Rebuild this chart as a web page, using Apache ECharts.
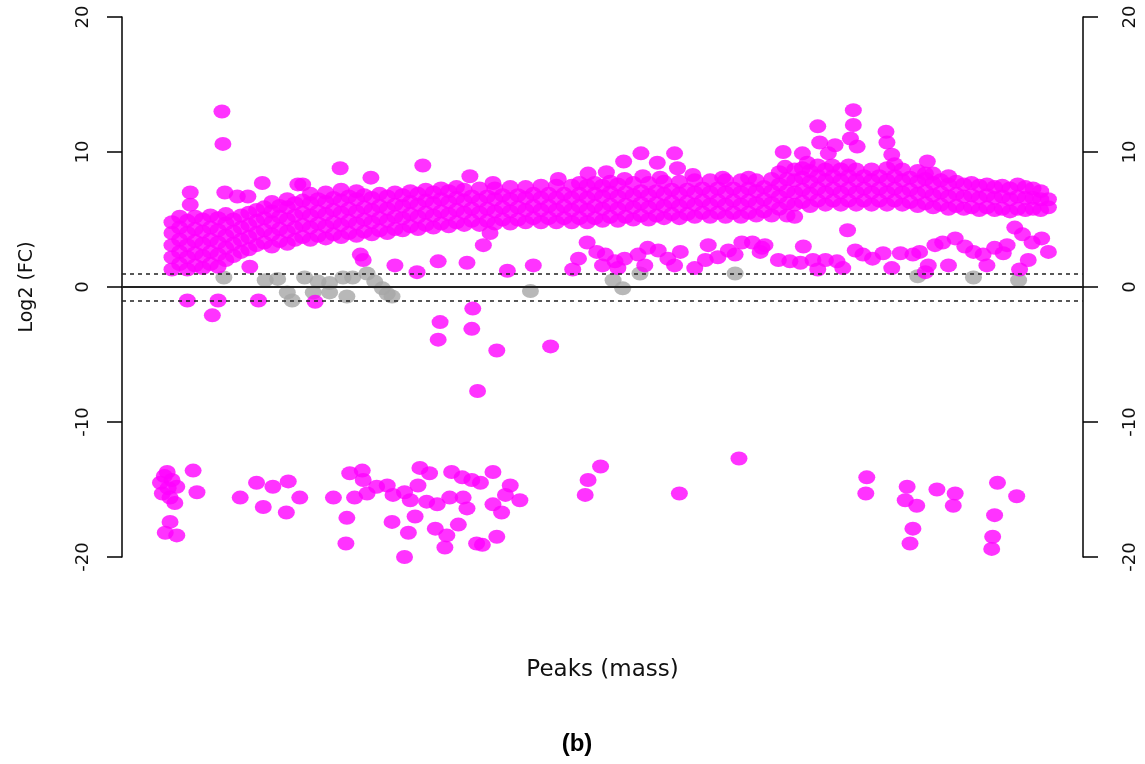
<!DOCTYPE html>
<html>
<head>
    <meta charset="utf-8">
    <title>Log2 (FC) vs Peaks</title>
    <script src="https://cdn.jsdelivr.net/npm/echarts@6/dist/echarts.min.js"></script>
    <style>
        html, body { margin: 0; padding: 0; background: #fff; }
        #main { width: 1145px; height: 764px; }
    </style>
</head>
<body>
<div id="main"></div>
<script>
    // peak index (0..1000 on the x scale) -> log2 fold change
    // main band, one column of peaks at a time
    const upperCols = [
        [52, [1.3, 2.2, 3.1, 4.0, 4.8]], [60, [1.7, 2.6, 3.5, 4.4, 5.2]], [68, [1.3, 2.2, 3.1, 4.0, 4.9]],
        [76, [1.6, 2.5, 3.4, 4.3, 5.2]], [84, [1.4, 2.3, 3.2, 4.1, 5.0]], [92, [1.7, 2.6, 3.5, 4.4, 5.3]],
        [100, [1.5, 2.4, 3.3, 4.2, 5.1]], [108, [2.0, 2.9, 3.8, 4.7, 5.4]], [116, [2.3, 3.2, 4.1, 5.0]],
        [124, [2.6, 3.5, 4.4, 5.3]], [132, [2.8, 3.7, 4.6, 5.5]], [140, [3.1, 4.0, 4.9, 5.7]],
        [148, [3.3, 4.2, 5.1, 5.9]], [156, [3.0, 3.9, 4.8, 5.6, 6.3]], [164, [3.4, 4.3, 5.2, 6.0]],
        [172, [3.2, 4.1, 5.0, 5.9, 6.5]], [180, [3.5, 4.4, 5.3, 6.2]], [188, [3.7, 4.6, 5.5, 6.4]],
        [196, [3.5, 4.4, 5.3, 6.2, 6.9]], [204, [3.8, 4.7, 5.6, 6.5]], [212, [3.6, 4.5, 5.4, 6.3, 7.0]],
        [220, [3.9, 4.8, 5.7, 6.6]], [228, [3.7, 4.6, 5.5, 6.4, 7.2]], [236, [4.0, 4.9, 5.8, 6.7]],
        [244, [3.8, 4.7, 5.6, 6.5, 7.1]], [252, [4.1, 5.0, 5.9, 6.8]], [260, [3.9, 4.8, 5.7, 6.6]],
        [268, [4.2, 5.1, 6.0, 6.9]], [276, [4.0, 4.9, 5.8, 6.7]], [284, [4.3, 5.2, 6.1, 7.0]],
        [292, [4.2, 5.1, 6.0, 6.8]], [300, [4.5, 5.4, 6.3, 7.1]], [308, [4.3, 5.2, 6.1, 6.9]],
        [316, [4.6, 5.5, 6.4, 7.2]], [324, [4.4, 5.3, 6.2, 7.0]], [332, [4.7, 5.6, 6.5, 7.3]],
        [340, [4.5, 5.4, 6.3, 7.1]], [348, [4.8, 5.7, 6.6, 7.4]], [356, [4.6, 5.5, 6.4, 7.2]],
        [364, [4.9, 5.8, 6.7]], [372, [4.6, 5.5, 6.4, 7.3]], [380, [4.9, 5.8, 6.7]],
        [388, [4.7, 5.6, 6.5, 7.3]], [396, [5.0, 5.9, 6.8]], [404, [4.7, 5.6, 6.5, 7.4]],
        [412, [5.0, 5.9, 6.8]], [420, [4.8, 5.7, 6.6, 7.4]], [428, [5.1, 6.0, 6.9]],
        [436, [4.8, 5.7, 6.6, 7.5]], [444, [5.1, 6.0, 6.9]], [452, [4.8, 5.7, 6.6, 7.5]],
        [460, [5.1, 6.0, 6.9]], [468, [4.8, 5.7, 6.6, 7.5]], [476, [5.1, 6.0, 6.9, 7.7]],
        [484, [4.8, 5.7, 6.6, 7.5]], [492, [5.1, 6.0, 6.9, 7.7]], [500, [4.9, 5.8, 6.7, 7.5]],
        [508, [5.2, 6.1, 7.0, 7.8]], [516, [4.9, 5.8, 6.7, 7.6]], [524, [5.2, 6.1, 7.0]],
        [532, [5.0, 5.9, 6.8, 7.7]], [540, [5.3, 6.2, 7.1]], [548, [5.0, 5.9, 6.8, 7.7]],
        [556, [5.3, 6.2, 7.1]], [564, [5.1, 6.0, 6.9, 7.8]], [572, [5.4, 6.3, 7.2]],
        [580, [5.1, 6.0, 6.9, 7.8]], [588, [5.4, 6.3, 7.2]], [596, [5.2, 6.1, 7.0, 7.9]],
        [604, [5.5, 6.4, 7.3]], [612, [5.2, 6.1, 7.0, 7.9]], [620, [5.5, 6.4, 7.3]],
        [628, [5.2, 6.1, 7.0, 7.9]], [636, [5.5, 6.4, 7.3]], [644, [5.2, 6.1, 7.0, 7.9]],
        [652, [5.5, 6.4, 7.3, 8.1]], [660, [5.3, 6.2, 7.1, 7.9]], [668, [5.6, 6.5, 7.4]],
        [676, [5.3, 6.2, 7.1, 8.0]], [684, [5.8, 6.7, 7.6, 8.5]], [692, [5.3, 6.2, 7.1, 8.0]],
        [700, [5.2, 6.1, 7.0, 7.9, 8.7]], [708, [6.3, 7.2, 8.1, 8.8]], [716, [6.0, 6.9, 7.8, 8.6]],
        [724, [6.4, 7.3, 8.2, 9.0]], [732, [6.1, 7.0, 7.9, 8.7]], [740, [6.4, 7.3, 8.2]],
        [748, [6.1, 7.0, 7.9, 8.7]], [756, [6.4, 7.3, 8.2, 9.0]], [764, [6.1, 7.0, 7.9, 8.7]],
        [772, [6.4, 7.3, 8.2]], [780, [6.1, 7.0, 7.9, 8.7]], [788, [6.4, 7.3, 8.2]],
        [796, [6.1, 7.0, 7.9, 8.8]], [804, [6.4, 7.3, 8.2, 9.1]], [812, [6.1, 7.0, 7.9, 8.7]],
        [820, [6.3, 7.2, 8.1]], [828, [6.0, 6.9, 7.8, 8.6]], [836, [6.2, 7.1, 8.0]],
        [844, [5.9, 6.8, 7.7, 8.4]], [852, [6.1, 7.0, 7.9]], [860, [5.8, 6.7, 7.6, 8.2]],
        [868, [6.0, 6.9, 7.8]], [876, [5.8, 6.7, 7.6]], [884, [5.9, 6.8, 7.7]],
        [892, [5.7, 6.6, 7.5]], [900, [5.9, 6.8, 7.6]], [908, [5.7, 6.6, 7.4]],
        [916, [5.8, 6.7, 7.5]], [924, [5.6, 6.5, 7.3]], [932, [5.8, 6.7, 7.6]],
        [940, [5.7, 6.6, 7.4]], [948, [5.8, 6.6, 7.3]], [956, [5.7, 6.5, 7.1]],
        [964, [5.9, 6.5]]
    ];

    // points sticking out above the band
    const topOutliers = [
        [104, 13.0], [105, 10.6], [71, 7.0], [71, 6.1], [107, 7.0], [120, 6.7], [131, 6.7], [146, 7.7],
        [183, 7.6], [188, 7.6], [227, 8.8], [259, 8.1], [313, 9.0], [362, 8.2], [386, 7.7], [454, 8.0],
        [485, 8.4], [504, 8.5], [522, 9.3], [523, 8.0], [540, 9.9], [542, 8.2], [557, 9.2], [560, 8.1],
        [575, 9.9], [578, 8.8], [594, 8.3], [625, 8.1], [688, 10.0], [690, 8.9], [708, 9.9], [713, 9.2],
        [724, 11.9], [726, 10.7], [735, 9.9], [739, 9.0], [742, 10.5], [758, 11.0], [761, 13.1],
        [761, 12.0], [765, 10.4], [795, 11.5], [796, 10.7], [801, 9.8], [836, 8.4], [838, 9.3]
    ];

    // second, lower band between +1 and +4.5
    const lowBand = [
        [133, 1.5], [248, 2.4], [251, 2.0], [284, 1.6], [307, 1.1], [329, 1.9], [359, 1.8], [376, 3.1],
        [383, 4.0], [401, 1.2], [428, 1.6], [469, 1.3], [475, 2.1], [484, 3.3], [494, 2.6], [500, 1.6],
        [503, 2.4], [513, 1.9], [516, 1.4], [523, 2.1], [537, 2.4], [544, 1.6], [547, 2.9], [558, 2.7],
        [568, 2.1], [575, 1.6], [581, 2.6], [596, 1.4], [607, 2.0], [610, 3.1], [620, 2.2], [631, 2.7],
        [638, 2.4], [645, 3.3], [656, 3.3], [664, 2.6], [666, 2.9], [669, 3.1], [683, 2.0], [695, 1.9],
        [706, 1.8], [709, 3.0], [719, 2.0], [724, 1.3], [732, 2.0], [744, 1.9], [750, 1.4], [755, 4.2],
        [763, 2.7], [771, 2.4], [781, 2.1], [792, 2.5], [801, 1.4], [810, 2.5], [823, 2.4], [830, 2.6],
        [836, 1.1], [839, 1.6], [846, 3.1], [854, 3.3], [860, 1.6], [867, 3.6], [877, 3.0], [886, 2.6],
        [896, 2.4], [900, 1.6], [908, 2.9], [917, 2.5], [921, 3.1], [929, 4.4], [934, 1.3], [937, 3.9],
        [943, 2.0], [947, 3.3], [957, 3.6], [964, 2.6]
    ];

    // down-regulated peaks between -1 and -8
    const negPoints = [
        [68, -1.0], [94, -2.1], [100, -1.0], [142, -1.0], [201, -1.1], [329, -3.9], [331, -2.6],
        [364, -3.1], [365, -1.6], [370, -7.7], [390, -4.7], [446, -4.4]
    ];

    // peaks near -13 .. -20
    const lowCluster = [
        [47, -13.7], [40, -14.5], [52, -14.3], [57, -14.8], [42, -15.3], [50, -15.6], [55, -16.0],
        [50, -17.4], [45, -18.2], [57, -18.4], [44, -14.0], [48, -14.9], [74, -13.6], [78, -15.2],
        [123, -15.6], [140, -14.5], [147, -16.3], [157, -14.8], [171, -16.7], [173, -14.4], [185, -15.6],
        [220, -15.6], [233, -19.0], [234, -17.1], [237, -13.8], [242, -15.6], [250, -13.6], [251, -14.3],
        [255, -15.3], [265, -14.8], [276, -14.7], [281, -17.4], [282, -15.4], [294, -15.2], [294, -20.0],
        [298, -18.2], [300, -15.8], [305, -17.0], [308, -14.7], [310, -13.4], [317, -15.9], [320, -13.8],
        [326, -17.9], [328, -16.1], [336, -19.3], [338, -18.4], [341, -15.6], [343, -13.7], [350, -17.6],
        [354, -14.1], [355, -15.6], [359, -16.4], [364, -14.3], [369, -19.0], [373, -14.5], [375, -19.1],
        [386, -13.7], [386, -16.1], [390, -18.5], [395, -16.7], [399, -15.4], [404, -14.7], [414, -15.8],
        [482, -15.4], [485, -14.3], [498, -13.3], [580, -15.3], [642, -12.7], [774, -15.3], [775, -14.1],
        [815, -15.8], [817, -14.8], [820, -19.0], [823, -17.9], [827, -16.2], [848, -15.0], [865, -16.2],
        [867, -15.3], [905, -19.4], [906, -18.5], [908, -16.9], [911, -14.5], [931, -15.5]
    ];

    // non-significant peaks (grey)
    const greyPoints = [
        [106, 0.7], [149, 0.5], [162, 0.6], [172, -0.4], [177, -1.0], [190, 0.7], [199, -0.4],
        [204, 0.4], [216, 0.3], [216, -0.4], [230, 0.7], [234, -0.7], [240, 0.7], [255, 1.0],
        [263, 0.4], [271, -0.1], [276, -0.5], [281, -0.7], [425, -0.3], [511, 0.5], [521, -0.1],
        [539, 1.0], [638, 1.0], [828, 0.8], [886, 0.7], [933, 0.5]
    ];

    const magentaData = upperCols
        .flatMap(([x, ys]) => ys.map(y => [x, y]))
        .concat(topOutliers, lowBand, negPoints, lowCluster);

    const axisFont = 'DejaVu Sans';

    const yAxisBase = {
        type: 'value',
        min: -20,
        max: 20,
        interval: 10,
        splitLine: { show: false },
        axisLine: { show: true, onZero: false, lineStyle: { color: '#000', width: 1.5 } },
        axisTick: { show: true, length: 15, lineStyle: { color: '#000', width: 1.5 } },
        axisLabel: { rotate: 90, fontSize: 18, color: '#111', fontFamily: axisFont }
    };

    const chart = echarts.init(document.getElementById('main'));
    chart.setOption({
        animation: false,
        backgroundColor: '#fff',
        title: {
            text: '(b)',
            left: 572,
            top: 727,
            textAlign: 'center',
            textStyle: { fontSize: 24, fontWeight: 'bold', color: '#000', fontFamily: 'Liberation Sans' }
        },
        grid: { left: 122, right: 62, top: 17, bottom: 207 },
        xAxis: {
            type: 'value',
            min: 0,
            max: 1000,
            axisLine: { show: false },
            axisTick: { show: false },
            axisLabel: { show: false },
            splitLine: { show: false },
            name: 'Peaks (mass)',
            nameLocation: 'middle',
            nameGap: 102,
            nameTextStyle: { fontSize: 23, color: '#111', fontFamily: axisFont }
        },
        yAxis: [
            Object.assign({}, yAxisBase, {
                position: 'left',
                name: 'Log2 (FC)',
                nameLocation: 'middle',
                nameGap: 85,
                nameTextStyle: { fontSize: 19, color: '#111', fontFamily: axisFont },
                axisLabel: Object.assign({}, yAxisBase.axisLabel, { margin: 30 })
            }),
            Object.assign({}, yAxisBase, {
                position: 'right',
                axisLabel: Object.assign({}, yAxisBase.axisLabel, { margin: 38 })
            })
        ],
        series: [
            {
                type: 'scatter',
                data: greyPoints,
                symbol: 'circle',
                symbolSize: [17, 14],
                itemStyle: { color: '#a6a6a6' },
                z: 2
            },
            {
                type: 'scatter',
                data: magentaData,
                symbol: 'circle',
                symbolSize: [17, 14],
                itemStyle: { color: '#ff00ff' },
                z: 3
            },
            {
                type: 'scatter',
                data: [],
                z: 5,
                markLine: {
                    silent: true,
                    symbol: 'none',
                    label: { show: false },
                    data: [
                        { yAxis: 0, lineStyle: { type: 'solid', color: '#222', width: 2 } },
                        { yAxis: 1, lineStyle: { type: [4, 4], color: '#222', width: 1.5 } },
                        { yAxis: -1, lineStyle: { type: [4, 4], color: '#222', width: 1.5 } }
                    ]
                }
            }
        ]
    });

    window.addEventListener('resize', () => chart.resize());
</script>
</body>
</html>
